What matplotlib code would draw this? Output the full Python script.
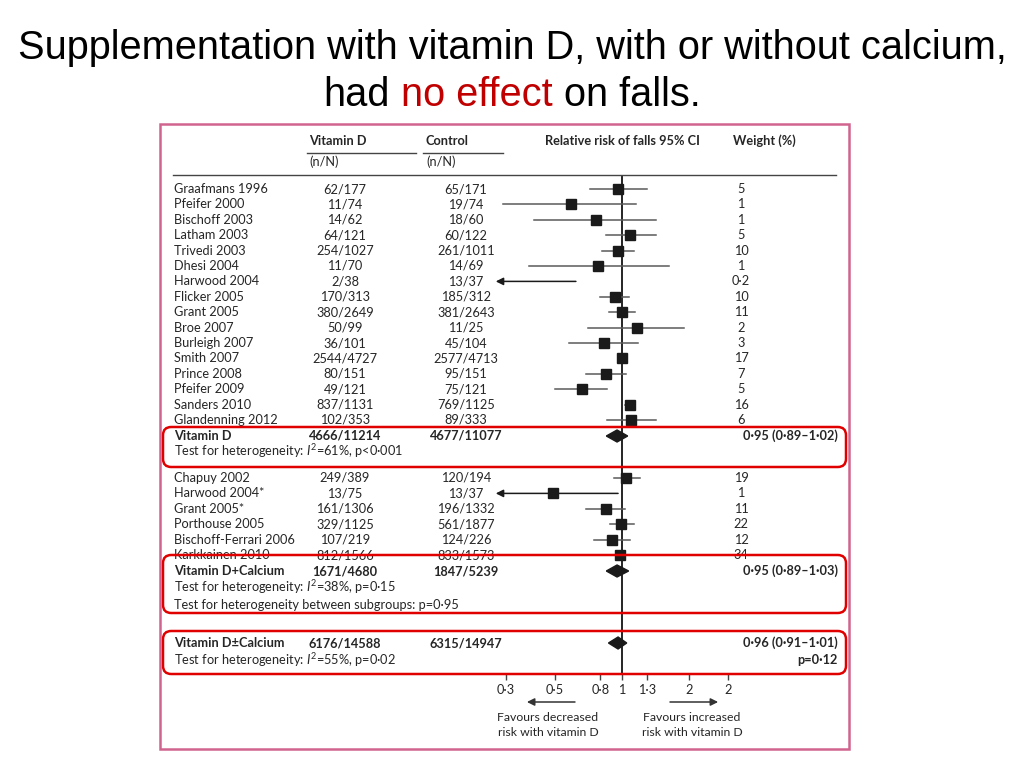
# -*- coding: utf-8 -*-
import numpy as np
import matplotlib
matplotlib.use("Agg")
import matplotlib.pyplot as plt
from matplotlib.patches import FancyBboxPatch, Rectangle
from matplotlib.transforms import blended_transform_factory
from matplotlib.offsetbox import TextArea, HPacker, AnnotationBbox
from matplotlib.ticker import FixedLocator, FixedFormatter, NullLocator

# vitamin D alone
grp1_names = ["Graafmans 1996", "Pfeifer 2000", "Bischoff 2003", "Latham 2003", "Trivedi 2003",
              "Dhesi 2004", "Harwood 2004", "Flicker 2005", "Grant 2005", "Broe 2007",
              "Burleigh 2007", "Smith 2007", "Prince 2008", "Pfeifer 2009", "Sanders 2010",
              "Glandenning 2012"]
grp1_vitd = ["62/177", "11/74", "14/62", "64/121", "254/1027", "11/70", "2/38", "170/313",
             "380/2649", "50/99", "36/101", "2544/4727", "80/151", "49/121", "837/1131", "102/353"]
grp1_ctrl = ["65/171", "19/74", "18/60", "60/122", "261/1011", "14/69", "13/37", "185/312",
             "381/2643", "11/25", "45/104", "2577/4713", "95/151", "75/121", "769/1125", "89/333"]
grp1_rr = [0.96, 0.59, 0.76, 1.09, 0.96, 0.78, 0.15, 0.93, 1.00, 1.17, 0.83, 1.00, 0.85, 0.66, 1.09, 1.10]
grp1_lo = [0.72, 0.29, 0.40, 0.85, 0.81, 0.38, 0.03, 0.80, 0.87, 0.70, 0.58, 0.96, 0.69, 0.50, 1.03, 0.86]
grp1_hi = [1.30, 1.16, 1.42, 1.42, 1.13, 1.62, 0.62, 1.08, 1.14, 1.91, 1.18, 1.04, 1.04, 0.86, 1.15, 1.42]
grp1_wt = ["5", "1", "1", "5", "10", "1", "0·2", "10", "11", "2", "3", "17", "7", "5", "16", "6"]

# vitamin D plus calcium
grp2_names = ["Chapuy 2002", "Harwood 2004*", "Grant 2005*", "Porthouse 2005",
              "Bischoff-Ferrari 2006", "Karkkainen 2010"]
grp2_vitd = ["249/389", "13/75", "161/1306", "329/1125", "107/219", "812/1566"]
grp2_ctrl = ["120/194", "13/37", "196/1332", "561/1877", "124/226", "833/1573"]
grp2_rr = [1.04, 0.49, 0.85, 0.99, 0.90, 0.98]
grp2_lo = [0.92, 0.10, 0.69, 0.88, 0.75, 0.93]
grp2_hi = [1.21, 0.96, 1.03, 1.13, 1.09, 1.03]
grp2_wt = ["19", "1", "11", "22", "12", "34"]

# pooled estimates
pool_labels = ["Vitamin D", "Vitamin D+Calcium", "Vitamin D±Calcium"]
pool_vitd = ["4666/11214", "1671/4680", "6176/14588"]
pool_ctrl = ["4677/11077", "1847/5239", "6315/14947"]
pool_rr = [0.95, 0.95, 0.96]
pool_lo = [0.89, 0.89, 0.91]
pool_hi = [1.02, 1.03, 1.01]
pool_ci_text = ["0·95 (0·89–1·02)", "0·95 (0·89–1·03)", "0·96 (0·91–1·01)"]
het_text = ["Test for heterogeneity: $I^2$=61%, p<0·001",
            "Test for heterogeneity: $I^2$=38%, p=0·15",
            "Test for heterogeneity: $I^2$=55%, p=0·02"]

tick_vals = [0.3, 0.5, 0.8, 1, 1.3, 2, 3]
tick_labels = ["0·3", "0·5", "0·8", "1", "1·3", "2", "2"]
arrow_min = 0.27   # left end of the drawn scale

plt.rcParams['font.family'] = ['Lato', 'DejaVu Sans']
plt.rcParams['mathtext.fontset'] = 'custom'
plt.rcParams['mathtext.rm'] = 'Lato'
plt.rcParams['mathtext.it'] = 'Lato:italic'

TXT = '#262626'
LINE = '#5a5a5a'
MARK = '#1a1a1a'
RED = '#e00000'
FS = 9.2
TFS = 28.6

fig = plt.figure(figsize=(10.24, 7.68), dpi=100)

# title
fig.text(0.5, 0.938, "Supplementation with vitamin D, with or without calcium,",
         ha='center', va='center', fontsize=TFS, family='Liberation Sans', color='black')
parts = [TextArea("had", textprops=dict(fontsize=TFS, family='Liberation Sans', color='black')),
         TextArea("no effect", textprops=dict(fontsize=TFS, family='Liberation Sans', color='#c00000')),
         TextArea("on falls.", textprops=dict(fontsize=TFS, family='Liberation Sans', color='black'))]
pack = HPacker(children=parts, align='baseline', pad=0, sep=8)
fig.add_artist(AnnotationBbox(pack, (0.5, 0.876), xycoords='figure fraction',
                              frameon=False, box_alignment=(0.5, 0.5)))

# outer frame of the pasted figure
fig.add_artist(Rectangle((160 / 1024, 19 / 768), 689 / 1024, 625 / 768,
                         transform=fig.transFigure, fill=False, ec='#d0648f', lw=1.8))

# forest axes: x=1 sits at px 622, 222 px per decade
left_px, right_px, one_px, dec_px = 160, 849, 622, 222
ax = fig.add_axes([left_px / 1024, (768 - 674) / 768, (right_px - left_px) / 1024, (674 - 175) / 768])
ax.set_xscale('log')
ax.set_xlim(10 ** ((left_px - one_px) / dec_px), 10 ** ((right_px - one_px) / dec_px))
ax.set_ylim(499, 0)
for s in ax.spines.values():
    s.set_visible(False)
ax.yaxis.set_visible(False)
ax.xaxis.set_major_locator(FixedLocator(tick_vals))
ax.xaxis.set_major_formatter(FixedFormatter(tick_labels))
ax.xaxis.set_minor_locator(NullLocator())
ax.tick_params(axis='x', direction='out', length=4.5, width=1, color='#444444',
               labelsize=9.2, labelcolor=TXT, pad=2.5)

tr = blended_transform_factory(ax.transAxes, ax.transData)


def colx(px):
    return (px - left_px) / (right_px - left_px)


# row layout
step = 15.4
ys1 = 14 + step * np.arange(len(grp1_names))
sum1_y = ys1[-1] + 16
het1_y = sum1_y + 15
ys2 = het1_y + 27 + step * np.arange(len(grp2_names))
sum2_y = ys2[-1] + 16
het2_y = sum2_y + 16
betw_y = het2_y + 18
tot_y = betw_y + 38
het3_y = tot_y + 17

# headers
hdr = dict(transform=tr, fontsize=9.2, color=TXT, fontweight='bold', va='center', clip_on=False)
ax.text(colx(309), -34, "Vitamin D", **hdr)
ax.text(colx(426), -34, "Control", **hdr)
ax.text(colx(545), -34, "Relative risk of falls 95% CI", **hdr)
ax.text(colx(733), -34, "Weight (%)", **hdr)
ax.text(colx(309), -13, "(n/N)", transform=tr, fontsize=9.2, color=TXT, va='center')
ax.text(colx(426), -13, "(n/N)", transform=tr, fontsize=9.2, color=TXT, va='center')
ax.plot([colx(307), colx(416)], [-22, -22], transform=tr, color='#444444', lw=1, clip_on=False)
ax.plot([colx(423), colx(503)], [-22, -22], transform=tr, color='#444444', lw=1, clip_on=False)
ax.plot([colx(173), colx(836)], [0, 0], transform=tr, color='#444444', lw=1, clip_on=False)

# line of no effect
ax.axvline(1, color='black', lw=1.2, zorder=1)


def study_rows(ys, names, vitd, ctrl, rr, lo, hi, wt):
    for y, n, a, b, r, l, h, w in zip(ys, names, vitd, ctrl, rr, lo, hi, wt):
        ax.text(colx(174), y, n, transform=tr, fontsize=FS, color=TXT, va='center')
        ax.text(colx(345), y, a, transform=tr, fontsize=FS, color=TXT, va='center', ha='center')
        ax.text(colx(466), y, b, transform=tr, fontsize=FS, color=TXT, va='center', ha='center')
        ax.text(colx(741), y, w, transform=tr, fontsize=FS, color=TXT, va='center', ha='center')
        if l < arrow_min:
            ax.annotate("", xy=(arrow_min, y), xytext=(h, y),
                        arrowprops=dict(arrowstyle='-|>', color=MARK, lw=1.1,
                                        mutation_scale=11, shrinkA=0, shrinkB=0))
        else:
            ax.plot([l, h], [y, y], color=LINE, lw=1.1, zorder=2)
        if r >= arrow_min:
            ax.plot(r, y, marker='s', ms=7.2, color=MARK, zorder=3)


study_rows(ys1, grp1_names, grp1_vitd, grp1_ctrl, grp1_rr, grp1_lo, grp1_hi, grp1_wt)
study_rows(ys2, grp2_names, grp2_vitd, grp2_ctrl, grp2_rr, grp2_lo, grp2_hi, grp2_wt)

# pooled rows
for y, hy, lab, a, b, r, l, h, ci, het in zip([sum1_y, sum2_y, tot_y], [het1_y, het2_y, het3_y],
                                              pool_labels, pool_vitd, pool_ctrl, pool_rr,
                                              pool_lo, pool_hi, pool_ci_text, het_text):
    bold = dict(transform=tr, fontsize=FS, color=TXT, va='center', fontweight='bold')
    ax.text(colx(174), y, lab, **bold)
    ax.text(colx(345), y, a, ha='center', **bold)
    ax.text(colx(466), y, b, ha='center', **bold)
    ax.text(colx(838), y, ci, ha='right', **bold)
    ax.text(colx(174), hy, het, transform=tr, fontsize=FS, color=TXT, va='center')
    ax.fill([l * 0.955, r, h * 1.04, r], [y, y - 6, y, y + 6], color=MARK, zorder=3)

ax.text(colx(174), betw_y, "Test for heterogeneity between subgroups: p=0·95",
        transform=tr, fontsize=FS, color=TXT, va='center')
ax.text(colx(838), het3_y, "p=0·12", transform=tr, fontsize=FS, color=TXT,
        va='center', ha='right', fontweight='bold')

# red highlight boxes
asp = (right_px - left_px)
for y0, y1 in [(sum1_y - 9, het1_y + 16), (sum2_y - 16, betw_y + 8), (tot_y - 12, 499)]:
    ax.add_patch(FancyBboxPatch((colx(163), y0), colx(846) - colx(163), y1 - y0,
                                boxstyle="round,pad=0,rounding_size=0.012",
                                mutation_aspect=asp, transform=tr, fill=False,
                                ec=RED, lw=1.8, clip_on=False, zorder=5))

# favours arrows under the axis
trx = blended_transform_factory(ax.transData, ax.transAxes)
ay = (674 - 702) / 499
ax.annotate("", xy=(0.373, ay), xytext=(0.614, ay), xycoords=trx, textcoords=trx,
            arrowprops=dict(arrowstyle='-|>', color='#333333', lw=1.1, mutation_scale=11,
                            shrinkA=0, shrinkB=0))
ax.annotate("", xy=(2.71, ay), xytext=(1.645, ay), xycoords=trx, textcoords=trx,
            arrowprops=dict(arrowstyle='-|>', color='#333333', lw=1.1, mutation_scale=11,
                            shrinkA=0, shrinkB=0))
ax.text(0.464, (674 - 725) / 499, "Favours decreased\nrisk with vitamin D", transform=trx,
        ha='center', va='center', fontsize=8.8, color=TXT, linespacing=1.45)
ax.text(2.07, (674 - 725) / 499, "Favours increased\nrisk with vitamin D", transform=trx,
        ha='center', va='center', fontsize=8.8, color=TXT, linespacing=1.45)

fig.savefig("out.png", dpi=100)
